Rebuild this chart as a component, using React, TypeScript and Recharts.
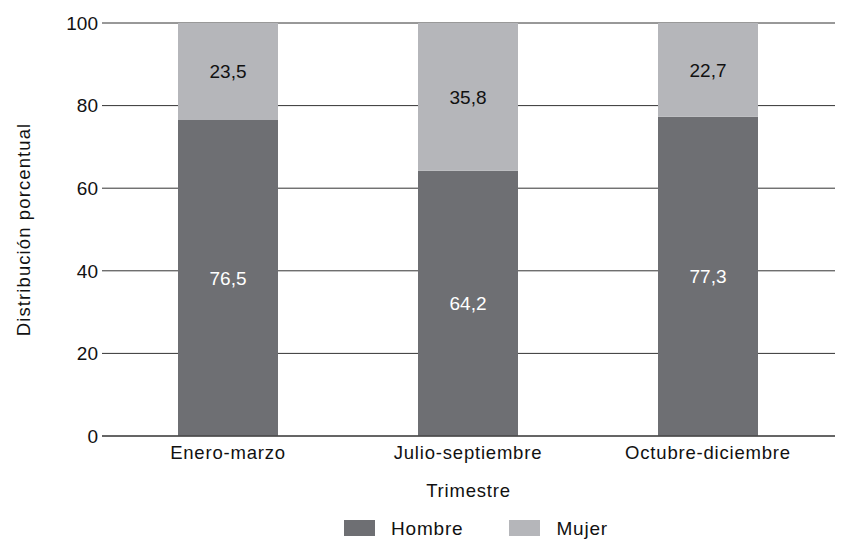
import { BarChart, Bar, XAxis, YAxis, CartesianGrid, Legend, LabelList } from "recharts";

const trimestres = ["Enero-marzo", "Julio-septiembre", "Octubre-diciembre"];
const hombre = [76.5, 64.2, 77.3];
const mujer = [23.5, 35.8, 22.7];
const yTicks = [0, 20, 40, 60, 80, 100];

const DARK = "#6e6f73";
const LIGHT = "#b5b6ba";
const FONT = "'Liberation Sans', Arial, Helvetica, sans-serif";

const data = trimestres.map((t, i) => ({
  trimestre: t,
  Hombre: hombre[i],
  Mujer: mujer[i],
}));

const fmt = (v: any) => String(v).replace(".", ",");

function LegendContent() {
  const items = [
    { name: "Hombre", color: DARK },
    { name: "Mujer", color: LIGHT },
  ];
  return (
    <div
      style={{
        height: 33,
        display: "flex",
        justifyContent: "flex-start",
        alignItems: "flex-start",
        paddingTop: 14,
        paddingLeft: 344,
        boxSizing: "border-box",
        fontFamily: FONT,
        fontSize: 19,
        letterSpacing: 0.8,
        color: "#111",
      }}
    >
      {items.map((it, i) => (
        <div key={it.name} style={{ display: "flex", alignItems: "flex-start", marginLeft: i ? 46 : 0 }}>
          <span style={{ width: 31, height: 16, background: it.color, display: "inline-block" }} />
          <span style={{ marginLeft: 16, lineHeight: "18px" }}>{it.name}</span>
        </div>
      ))}
    </div>
  );
}

export default function App() {
  return (
    <div style={{ position: "absolute", left: 0, top: 0, background: "#fff" }}>
      <BarChart
        width={847}
        height={539}
        data={data}
        margin={{ top: 23, right: 12, left: 0, bottom: 0 }}
        style={{ fontFamily: FONT }}
      >
        <CartesianGrid vertical={false} stroke="#333" strokeWidth={1} />
        <XAxis
          dataKey="trimestre"
          height={70}
          padding={{ left: 6, right: 7 }}
          axisLine={{ stroke: "#333" }}
          tickLine={false}
          tickSize={0}
          tickMargin={10}
          tick={{ fill: "#111", fontSize: 18.5, letterSpacing: 0.8 }}
          label={{
            content: (props: any) => {
              const vb = props.viewBox || {};
              return (
                <text
                  x={vb.x + vb.width / 2}
                  y={497}
                  textAnchor="middle"
                  fill="#111"
                  fontSize={18.5}
                  letterSpacing={0.8}
                >
                  Trimestre
                </text>
              );
            },
          }}
        />
        <YAxis
          width={102}
          domain={[0, 100]}
          ticks={yTicks}
          axisLine={false}
          tickLine={false}
          tickSize={0}
          tickMargin={4}
          tick={{ fill: "#111", fontSize: 19 }}
          label={{
            content: (props: any) => {
              const vb = props.viewBox || {};
              const cy = vb.y + vb.height / 2;
              return (
                <text
                  x={30}
                  y={cy}
                  transform={`rotate(-90, 30, ${cy})`}
                  textAnchor="middle"
                  fill="#111"
                  fontSize={18.5}
                  letterSpacing={1.1}
                >
                  Distribución porcentual
                </text>
              );
            },
          }}
        />
        <Legend verticalAlign="bottom" content={<LegendContent />} />
        <Bar dataKey="Hombre" stackId="a" fill={DARK} barSize={100} isAnimationActive={false}>
          <LabelList dataKey="Hombre" position="center" fill="#fff" fontSize={19} formatter={fmt} />
        </Bar>
        <Bar dataKey="Mujer" stackId="a" fill={LIGHT} barSize={100} isAnimationActive={false}>
          <LabelList dataKey="Mujer" position="center" fill="#111" fontSize={19} formatter={fmt} />
        </Bar>
      </BarChart>
    </div>
  );
}
